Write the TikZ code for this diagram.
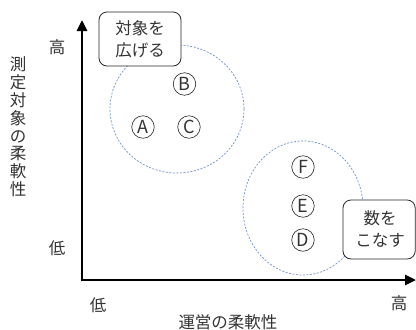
\documentclass[tikz,border=0pt]{standalone}
\usepackage{fontspec}
\setmainfont{Noto Sans CJK JP}
\usetikzlibrary{arrows.meta}
\definecolor{dashblue}{HTML}{6F93C8}
\definecolor{txt}{HTML}{333333}
\tikzset{
  axis/.style={line width=2.6pt, -{Triangle[length=11pt,width=10pt]}},
  lbl/.style={font=\fontsize{16.5}{17.8}\selectfont, text=txt, inner sep=0pt},
  notetext/.style={font=\fontsize{16.5}{22}\selectfont, text=txt, inner sep=0pt, align=center},
  group/.style={draw=dashblue, line width=0.7pt, dash pattern=on 2pt off 1.5pt},
  note/.style={draw=black!85, line width=0.8pt, rounded corners=8pt, fill=white},
  mark circ/.style={circle, draw=black!85, line width=0.6pt, minimum size=22.5pt, inner sep=0pt, text=txt, font=\fontsize{18}{18}\selectfont}
}
\begin{document}
\begin{tikzpicture}[x=1pt,y=-1pt]
\useasboundingbox (0,0) rectangle (416,330);
% axes
\coordinate (o) at (82,280);
\coordinate (ytip) at (82,20);
\coordinate (xtip) at (416,280);
\draw[axis] ([yshift=-1.3pt]o) -- (ytip);
\draw[axis] ([xshift=-1.3pt]o) -- (xtip);
% groups
\draw[group] (177,109) ellipse [x radius=67, y radius=64];
\draw[group] (303,208) ellipse [x radius=60, y radius=67];
% notes
\draw[note] (99,12) rectangle (181,66);
\node[notetext] (n1) at (140,39) {対象を\\広げる};
\draw[note] (343,200) rectangle (415.2,259);
\node[notetext] (n2) at (380,229) {数を\\こなす};
% points
\node[mark circ] (B) at (184.5,84) {B};
\node[mark circ] (A) at (143,127) {A};
\node[mark circ] (C) at (189,127) {C};
\node[mark circ] (F) at (303,167) {F};
\node[mark circ] (E) at (303,206) {E};
\node[mark circ] (D) at (303,240) {D};
% axis labels
\node[lbl] (yhi) at (57,47) {高};
\node[lbl] (ylo) at (57,248) {低};
\node[lbl] (xlo) at (98,305) {低};
\node[lbl] (xhi) at (399,303) {高};
\node[lbl] (xt) at (228,322) {運営の柔軟性};
\node[lbl, align=center] (yt) at (18,127) {測\\定\\対\\象\\の\\柔\\軟\\性};
\end{tikzpicture}
\end{document}
